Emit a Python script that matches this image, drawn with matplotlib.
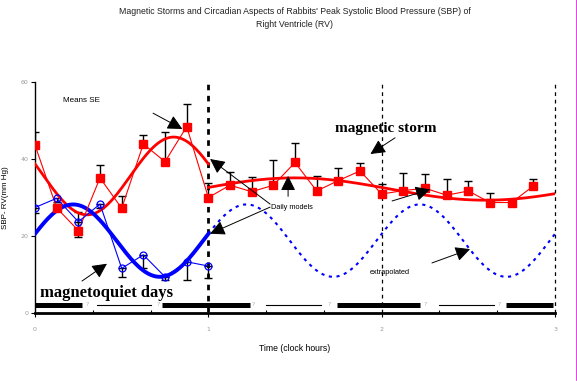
import numpy as np
import matplotlib
matplotlib.use("Agg")
import matplotlib.pyplot as plt
from matplotlib.lines import Line2D

RED, BLUE, INK, TICK = "#ff0000", "#0000ff", "#000000", "#9a9a9a"

# magnetic storm days: means with upper SE
storm_t = [0, .125, .25, .375, .5, .625, .75, .875, 1, 1.125, 1.25, 1.375,
           1.5, 1.625, 1.75, 1.875, 2, 2.125, 2.25, 2.375, 2.5, 2.625, 2.75, 2.875]
storm_m = [43.6, 27.3, 21.4, 35.1, 27.2, 43.9, 39.3, 48.4, 30.0, 33.2, 31.5, 33.2,
           39.1, 31.7, 34.4, 36.9, 30.9, 31.8, 32.4, 30.6, 31.7, 28.7, 28.7, 33.0]
storm_se = [3.5, 1.0, 4.9, 3.3, 3.3, 2.3, 7.8, 5.9, 3.8, 3.5, 3.9, 6.5,
            5.1, 4.0, 3.2, 2.0, 2.6, 4.6, 3.6, 4.1, 2.7, 2.6, 1.0, 1.7]

# magnetoquiet days: means with lower SE
quiet_t = [0, .125, .25, .375, .5, .625, .75, .875, 1]
quiet_m = [27.4, 29.8, 23.7, 28.3, 11.6, 15.1, 9.4, 13.3, 12.2]
quiet_se = [1.5, 1.0, 3.9, 1.0, 2.2, 3.5, 0.8, 4.7, 3.0]

# daily cosinor models: mesor, amplitude, acrophase, period, span
storm_day1 = (35.6, 10.1, 0.80, 1.0, (0, 1))
storm_day23 = (32.2, 2.9, 1.50, 2.2, (1, 3))
quiet_day1 = (18.8, 9.4, 0.22, 1.0, (0, 1))
quiet_extrap = (18.8, 9.4, 0.22, 1.0, (1, 3))

# light/dark spans along the bottom
dark_spans = [(0, .27), (.73, 1.24), (1.74, 2.22), (2.72, 2.99)]
light_spans = [(.36, .67), (1.33, 1.65), (2.33, 2.65)]
span_marks = [.29, .70, 1.25, 1.69, 2.24, 2.67]


def cosinor(model):
    mesor, amp, phi, per, (a, b) = model
    t = np.linspace(a, b, 200)
    return t, mesor + amp * np.cos(2 * np.pi * (t - phi) / per)


fig = plt.figure(figsize=(5.77, 3.85), dpi=100)
ax = fig.add_axes([0.0607, 0.187, 0.9012, 0.6])
ax.set_xlim(0, 3)
ax.set_ylim(0, 60)

# models
t, y = cosinor(storm_day1); ax.plot(t, y, color=RED, lw=2.0, zorder=3)
t, y = cosinor(storm_day23); ax.plot(t, y, color=RED, lw=2.0, zorder=3)
t, y = cosinor(quiet_day1); ax.plot(t, y, color=BLUE, lw=2.8, zorder=3)
t, y = cosinor(quiet_extrap)
ax.plot(t, y, color=BLUE, lw=1.5, ls=(0, (1.5, 2.2)), zorder=3)

# observed data
ax.errorbar(storm_t, storm_m, yerr=[np.zeros(len(storm_se)), storm_se], fmt="none",
            ecolor=INK, elinewidth=1, capsize=3, capthick=1, zorder=2)
ax.plot(storm_t, storm_m, color=RED, lw=0.8, zorder=4)
ax.plot(storm_t, storm_m, "s", color=RED, ms=5.8, zorder=5)
ax.errorbar(quiet_t, quiet_m, yerr=[quiet_se, np.zeros(len(quiet_se))], fmt="none",
            ecolor=INK, elinewidth=1, capsize=3, capthick=1, zorder=2)
ax.plot(quiet_t, quiet_m, color=BLUE, lw=0.8, zorder=4)
ax.plot(quiet_t, quiet_m, "o", mfc="none", mec=BLUE, mew=0.9, ms=5, zorder=5)

# day boundaries
ax.vlines(1, 0.2, 60, color=INK, lw=2, ls=(0, (2, 2)), zorder=1)
ax.vlines([2, 3], 0, 60, color=INK, lw=0.9, ls=(0, (3, 3)), zorder=1, clip_on=False)

# light/dark bars
for a, b in dark_spans:
    ax.plot([a, b], [2.1, 2.1], color=INK, lw=3.6, solid_capstyle="butt", zorder=2)
for a, b in light_spans:
    ax.plot([a, b], [2.1, 2.1], color=INK, lw=0.8, zorder=2)
for m in span_marks:
    ax.text(m, 2.1, "?", fontsize=4.5, color="#b8b8b8", ha="left", va="center")

# axes styling
for sp in ["top", "right"]:
    ax.spines[sp].set_visible(False)
ax.spines["bottom"].set_linewidth(2)
ax.spines["left"].set_linewidth(1)
ax.set_yticks([0, 20, 40, 60])
ax.set_xticks([0, 1, 2, 3])
ax.set_xticks(np.arange(0, 3.01, 1 / 3), minor=True)
ax.tick_params(axis="both", which="major", labelsize=4.5, labelcolor=TICK,
               length=3, width=0.8, pad=2)
ax.tick_params(axis="x", which="minor", length=2.5, width=0.8, direction="in")
ax.tick_params(axis="x", which="major", pad=7)

ax.set_ylabel("SBP- RV(mm Hg)", fontsize=5.8, family="Liberation Sans", labelpad=8)
ax.set_xlabel("Time (clock hours)", fontsize=6.2, family="Liberation Sans", labelpad=9)
fig.text(0.511, 0.953,
         "Magnetic Storms and Circadian Aspects of Rabbits' Peak Systolic Blood Pressure (SBP) of\n"
         "Right Ventricle (RV)", ha="center", va="center", fontsize=6.3,
         family="Liberation Sans", linespacing=1.6, color="#222222")

# annotations
ax.text(0.16, 55.1, "Means SE", fontsize=5.8, family="Liberation Sans", va="center")
ax.text(1.73, 47.9, "magnetic storm", fontsize=11, family="Liberation Serif",
        weight="bold", va="center")
ax.text(0.03, 5.3, "magnetoquiet days", fontsize=12, family="Liberation Serif",
        weight="bold", va="center")
ax.text(1.36, 27.5, "Daily models", fontsize=5.3, family="Liberation Sans", va="center")
ax.text(1.93, 10.4, "extrapolated", fontsize=5.3, family="Liberation Sans", va="center")

arrows = [((0.681, 51.9), (0.85, 47.8)),
          ((1.356, 28.3), (1.01, 40.0)),
          ((1.356, 27.5), (1.01, 20.6)),
          ((1.46, 30.3), (1.46, 35.6)),
          ((2.077, 45.5), (1.935, 41.3)),
          ((2.06, 29.1), (2.28, 32.1)),
          ((2.29, 13.0), (2.51, 16.6)),
          ((0.271, 8.3), (0.415, 12.8))]
for tail, tip in arrows:
    ax.annotate("", xy=tip, xytext=tail,
                arrowprops=dict(arrowstyle="-|>,head_length=1.0,head_width=0.5",
                                color=INK, lw=0.7, mutation_scale=9,
                                shrinkA=0, shrinkB=0), zorder=6)

fig.add_artist(Line2D([0.9995, 0.9995], [0.012, 1], color="#e020e0", lw=1.2,
                      transform=fig.transFigure))

fig.savefig("out.png", dpi=100, facecolor="white")
